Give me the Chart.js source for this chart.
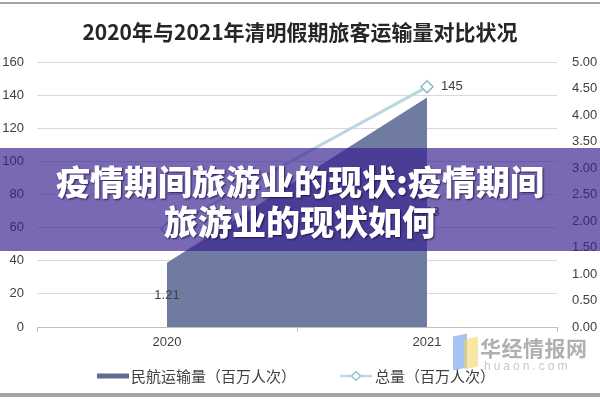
<!DOCTYPE html>
<html lang="zh">
<head>
<meta charset="UTF-8">
<title>2020年与2021年清明假期旅客运输量对比状况</title>
<script src="https://cdn.jsdelivr.net/npm/chart.js@4"></script>
<style>
  html, body { margin: 0; padding: 0; background: #fff; }
  #wrap { position: relative; width: 600px; height: 400px; overflow: hidden; font-family: 'Noto Sans CJK SC', sans-serif; }
  #wrap canvas { position: absolute; left: 0; top: 0; }
  .frame { position: absolute; left: 0; width: 600px; background: #a3a3a3; }
  #title { position: absolute; left: 0; top: 16px; width: 600px; text-align: center; font-size: 21px; font-weight: bold; color: #262626; }
  #banner { position: absolute; left: 0; top: 148px; width: 600px; height: 103px; background: rgba(55, 32, 145, 0.67); }
  #banner p { margin: 0; padding-top: 13px; text-align: center; color: #fff; font-size: 34px; font-weight: 900; line-height: 40px; text-shadow: 1px 1px 2px rgba(20, 10, 60, 0.8); }
  #wm { position: absolute; left: 450px; top: 332px; width: 150px; height: 45px; }
  #wm .b { position: absolute; left: 3px; top: 3px; width: 14px; height: 34px; background: rgba(90, 150, 230, 0.55); transform: skewY(-12deg); }
  #wm .y { position: absolute; left: 14px; top: 6px; width: 14px; height: 30px; background: rgba(245, 210, 90, 0.55); transform: skewY(-12deg); }
  #wm .t { position: absolute; left: 30px; top: 0px; font-size: 21px; font-weight: bold; color: rgba(150, 150, 150, 0.75); letter-spacing: 0.5px; }
  #wm .u { position: absolute; left: 34px; top: 27px; font-family: 'Liberation Sans', sans-serif; font-size: 12px; color: rgba(175, 175, 175, 0.7); letter-spacing: 3px; }
</style>
</head>
<body>
<div id="wrap">
  <canvas id="chart" width="600" height="400"></canvas>
  <div class="frame" style="top:2px;height:2px"></div>
  <div class="frame" style="top:393px;height:4px"></div>
  <div id="title">2020年与2021年清明假期旅客运输量对比状况</div>
  <div id="wm"><div class="b"></div><div class="y"></div><div class="t">华经情报网</div><div class="u">huaon.com</div></div>
  <div id="banner"><p>疫情期间旅游业的现状:疫情期间<br>旅游业的现状如何</p></div>
</div>

<script>
  // data
  const years = ['2020', '2021'];
  const civilAviation = [1.21, 4.33];   // 百万人次, right axis
  const totalPassengers = [59.2, 145];  // 百万人次, left axis
  const leftTicks = [0, 20, 40, 60, 80, 100, 120, 140, 160];
  const rightTicks = [0, 0.5, 1, 1.5, 2, 2.5, 3, 3.5, 4, 4.5, 5];

  const areaColor = 'rgb(112, 123, 161)';
  const lineColor = 'rgb(186, 215, 225)';
  const tickFont = { family: "'Liberation Sans', sans-serif", size: 13 };

  // data labels + legend, drawn after the datasets
  const extras = {
    id: 'extras',
    afterDatasetsDraw(chart) {
      const ctx = chart.ctx;
      const zeroY = chart.scales.y1.getPixelForValue(0);
      ctx.save();
      ctx.font = "13px 'Liberation Sans', sans-serif";
      ctx.fillStyle = '#404040';
      ctx.textBaseline = 'middle';
      ctx.textAlign = 'center';
      chart.getDatasetMeta(0).data.forEach((pt, i) => {
        ctx.fillText(civilAviation[i].toFixed(2), pt.x, (pt.y + zeroY) / 2);
      });
      // only the 2021 total label is shown
      const last = chart.getDatasetMeta(1).data[totalPassengers.length - 1];
      ctx.textAlign = 'left';
      ctx.fillText(String(totalPassengers[totalPassengers.length - 1]), last.x + 14, last.y);
      ctx.restore();
    },
    afterDraw(chart) {
      const ctx = chart.ctx;
      const y = 376;
      ctx.save();
      ctx.font = "15px 'Noto Sans CJK SC', sans-serif";
      ctx.textBaseline = 'middle';
      // item 1
      ctx.fillStyle = 'rgb(96, 107, 146)';
      ctx.fillRect(97, y - 2.5, 32, 5);
      ctx.fillStyle = '#404040';
      ctx.fillText(chart.data.datasets[0].label, 131, y);
      // item 2
      ctx.strokeStyle = lineColor;
      ctx.lineWidth = 2.5;
      ctx.beginPath();
      ctx.moveTo(340, y);
      ctx.lineTo(372, y);
      ctx.stroke();
      ctx.beginPath();
      ctx.moveTo(356, y - 4.5);
      ctx.lineTo(360.5, y);
      ctx.lineTo(356, y + 4.5);
      ctx.lineTo(351.5, y);
      ctx.closePath();
      ctx.fillStyle = '#fff';
      ctx.fill();
      ctx.lineWidth = 1.2;
      ctx.strokeStyle = 'rgb(140, 185, 198)';
      ctx.stroke();
      ctx.fillStyle = '#404040';
      ctx.fillText(chart.data.datasets[1].label, 375, y);
      ctx.restore();
    }
  };

  new Chart(document.getElementById('chart'), {
    type: 'line',
    data: {
      labels: years,
      datasets: [
        {
          label: '民航运输量（百万人次）',
          data: civilAviation,
          yAxisID: 'y1',
          fill: 'origin',
          backgroundColor: areaColor,
          borderWidth: 0,
          pointRadius: 0,
          tension: 0,
          order: 2
        },
        {
          label: '总量（百万人次）',
          data: totalPassengers,
          yAxisID: 'y',
          fill: false,
          borderColor: lineColor,
          borderWidth: 3,
          pointStyle: 'rectRot',
          pointRadius: 6,
          pointBackgroundColor: '#fff',
          pointBorderColor: 'rgb(140, 185, 198)',
          pointBorderWidth: 1.5,
          tension: 0,
          order: 1
        }
      ]
    },
    options: {
      responsive: false,
      animation: false,
      layout: { padding: { top: 62, bottom: 43, left: 0, right: 0 } },
      plugins: {
        legend: { display: false },
        title: { display: false },
        tooltip: { enabled: false }
      },
      scales: {
        x: {
          offset: true,
          grid: { offset: true, drawOnChartArea: false, tickLength: 5, color: '#bfbfbf' },
          border: { color: '#bfbfbf' },
          ticks: { font: tickFont, color: '#404040', padding: 3 },
          afterFit: s => { s.height = 30; }
        },
        y: {
          position: 'left',
          min: leftTicks[0],
          max: leftTicks[leftTicks.length - 1],
          ticks: { stepSize: leftTicks[1] - leftTicks[0], font: tickFont, color: '#404040', padding: 13 },
          grid: { color: '#d9d9d9', drawTicks: false },
          border: { display: false },
          afterFit: s => { s.width = 37; }
        },
        y1: {
          position: 'right',
          min: rightTicks[0],
          max: rightTicks[rightTicks.length - 1],
          ticks: { stepSize: rightTicks[1] - rightTicks[0], font: tickFont, color: '#404040', padding: 15, callback: v => Number(v).toFixed(2) },
          grid: { drawOnChartArea: false, drawTicks: false },
          border: { display: false },
          afterFit: s => { s.width = 43; }
        }
      }
    },
    plugins: [extras]
  });
</script>
</body>
</html>
